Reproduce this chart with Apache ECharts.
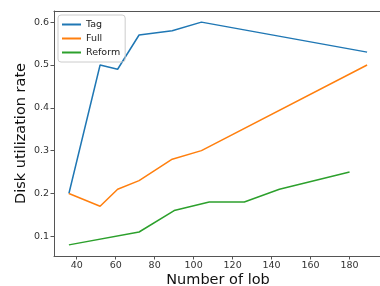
<!DOCTYPE html>
<html>
<head>
<meta charset="utf-8">
<script src="https://cdn.jsdelivr.net/npm/echarts@6/dist/echarts.min.js"></script>
<style>
  html, body { margin: 0; padding: 0; background: #fff; }
  #chart { width: 380px; height: 286px; }
</style>
</head>
<body>
<div id="chart"></div>
<script>
// data
const tagJobs = [36, 52, 61, 72, 89, 104, 189]
const tagRate = [0.2, 0.5, 0.49, 0.57, 0.58, 0.6, 0.53]
const fullJobs = [36, 52, 61, 72, 89, 104, 189]
const fullRate = [0.2, 0.17, 0.21, 0.23, 0.28, 0.3, 0.5]
const reformJobs = [36, 72, 90, 108, 126, 144, 180]
const reformRate = [0.08, 0.11, 0.16, 0.18, 0.18, 0.21, 0.25]
const xTicks = [40, 60, 80, 100, 120, 140, 160, 180]
const yTicks = [0.1, 0.2, 0.3, 0.4, 0.5, 0.6]

const pairs = (xs, ys) => xs.map((x, i) => [x, ys[i]])

const spine = { show: true, lineStyle: { color: '#555', width: 1 } }
const font = 'DejaVu Sans'

const chart = echarts.init(document.getElementById('chart'))
chart.setOption({
  animation: false,
  textStyle: { fontFamily: font },
  // keep the plot box fixed, the axis title may run off the bottom like the original
  grid: { left: 54, right: -2, top: 11, bottom: 30, outerBoundsMode: 'none' },
  legend: {
    left: 58,
    top: 15,
    orient: 'vertical',
    icon: 'rect',
    itemWidth: 19,
    itemHeight: 2,
    itemGap: 3,
    padding: [4, 5, 4, 4],
    borderColor: '#ccc',
    borderWidth: 1,
    borderRadius: 3,
    textStyle: { fontFamily: font, fontSize: 9.5, color: '#222', lineHeight: 11 },
    data: ['Tag', 'Full', 'Reform']
  },
  xAxis: [
    {
      type: 'value',
      min: 28.35,
      max: 196.65,
      name: 'Number of lob',
      nameLocation: 'middle',
      nameMoveOverlap: false,
      nameGap: 17,
      nameTextStyle: { fontFamily: font, fontSize: 14.5, color: '#111' },
      axisLine: spine,
      axisTick: { show: true, length: 3.5, customValues: xTicks, lineStyle: { color: '#555' } },
      axisLabel: { customValues: xTicks, fontSize: 9.5, color: '#333', margin: 5 },
      splitLine: { show: false }
    },
    {
      type: 'value',
      position: 'top',
      min: 28.35,
      max: 196.65,
      axisLine: spine,
      axisTick: { show: false },
      axisLabel: { show: false },
      splitLine: { show: false }
    }
  ],
  yAxis: {
    type: 'value',
    min: 0.054,
    max: 0.626,
    name: 'Disk utilization rate',
    nameLocation: 'middle',
    nameMoveOverlap: false,
    nameGap: 25,
    nameTextStyle: { fontFamily: font, fontSize: 14.5, color: '#111' },
    axisLine: spine,
    axisTick: { show: true, length: 3.5, customValues: yTicks, lineStyle: { color: '#555' } },
    axisLabel: { customValues: yTicks, fontSize: 9.5, color: '#333', margin: 5, formatter: v => v.toFixed(1) },
    splitLine: { show: false }
  },
  series: [
    { name: 'Tag', type: 'line', data: pairs(tagJobs, tagRate), symbol: 'none', lineStyle: { width: 1.5 }, color: '#1f77b4' },
    { name: 'Full', type: 'line', data: pairs(fullJobs, fullRate), symbol: 'none', lineStyle: { width: 1.5 }, color: '#ff7f0e' },
    { name: 'Reform', type: 'line', data: pairs(reformJobs, reformRate), symbol: 'none', lineStyle: { width: 1.5 }, color: '#2ca02c' }
  ]
})
</script>
</body>
</html>
